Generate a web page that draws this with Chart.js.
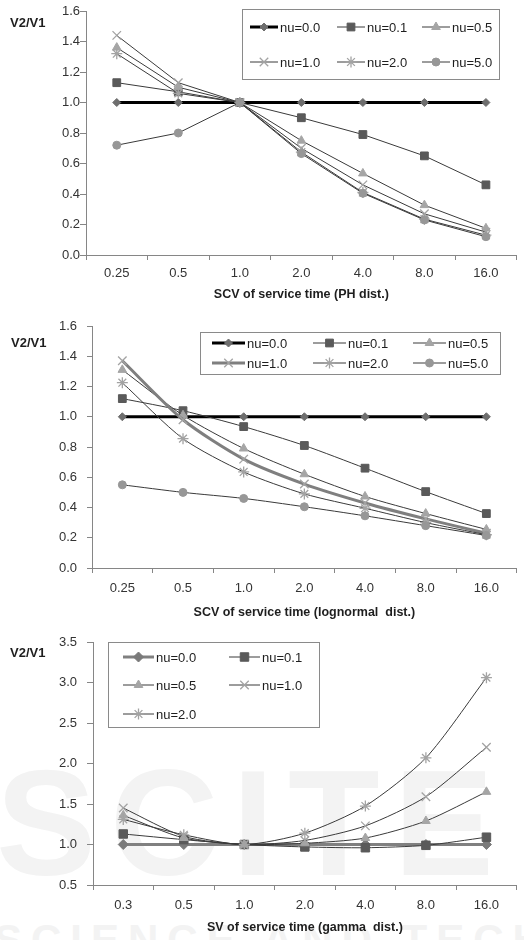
<!DOCTYPE html>
<html>
<head>
<meta charset="utf-8">
<script src="https://cdn.jsdelivr.net/npm/chart.js@4.4.1/dist/chart.umd.min.js"></script>
<style>
  html, body { margin: 0; padding: 0; background: #fff; }
  #wrap { position: relative; width: 524px; height: 940px; overflow: hidden; }
  canvas { position: absolute; left: 0; }
  .wm { position: absolute; left: 0; width: 524px; white-space: nowrap; font-family: "Liberation Sans", Arial, sans-serif;
        font-weight: bold; color: #f3f3f3; line-height: 1; }
</style>
</head>
<body>
<div id="wrap">
  <div class="wm" style="top:748px;font-size:150px;letter-spacing:14px;left:-4px">SCITE</div>
  <div class="wm" style="top:919px;font-size:42px;letter-spacing:9px;left:-6px">SCIENCE AND TECH</div>
  <canvas id="c1" width="524" height="306" style="top:0"></canvas>
  <canvas id="c2" width="524" height="318" style="top:306px"></canvas>
  <canvas id="c3" width="524" height="316" style="top:624px"></canvas>
</div>
<script>
// categories (x tick labels)
const catsPH = ['0.25', '0.5', '1.0', '2.0', '4.0', '8.0', '16.0'];
const catsLogn = ['0.25', '0.5', '1.0', '2.0', '4.0', '8.0', '16.0'];
const catsGamma = ['0.3', '0.5', '1.0', '2.0', '4.0', '8.0', '16.0'];
const seriesLabels = ['nu=0.0', 'nu=0.1', 'nu=0.5', 'nu=1.0', 'nu=2.0', 'nu=5.0'];

// y tick values
const yTicksLow = [0, 0.2, 0.4, 0.6, 0.8, 1.0, 1.2, 1.4, 1.6];
const yTicksGamma = [0.5, 1.0, 1.5, 2.0, 2.5, 3.0, 3.5];

// chart 1: PH dist.
const phNu00 = [1.0, 1.0, 1.0, 1.0, 1.0, 1.0, 1.0];
const phNu01 = [1.13, 1.07, 1.0, 0.90, 0.79, 0.65, 0.46];
const phNu05 = [1.36, 1.10, 1.0, 0.75, 0.535, 0.327, 0.175];
const phNu10 = [1.44, 1.13, 1.0, 0.70, 0.46, 0.27, 0.15];
const phNu20 = [1.32, 1.06, 1.0, 0.675, 0.41, 0.235, 0.13];
const phNu50 = [0.72, 0.80, 1.0, 0.665, 0.405, 0.23, 0.12];

// chart 2: lognormal dist.
const lnNu00 = [1.0, 1.0, 1.0, 1.0, 1.0, 1.0, 1.0];
const lnNu01 = [1.12, 1.04, 0.935, 0.81, 0.66, 0.505, 0.36];
const lnNu05 = [1.31, 1.01, 0.79, 0.62, 0.473, 0.36, 0.255];
const lnNu10 = [1.37, 0.98, 0.72, 0.555, 0.43, 0.325, 0.23];
const lnNu20 = [1.225, 0.855, 0.635, 0.49, 0.395, 0.30, 0.22];
const lnNu50 = [0.55, 0.50, 0.46, 0.405, 0.345, 0.28, 0.215];

// chart 3: gamma dist.
const gaNu00 = [1.0, 1.0, 1.0, 1.0, 1.0, 1.0, 1.0];
const gaNu01 = [1.13, 1.06, 1.0, 0.97, 0.96, 0.99, 1.09];
const gaNu05 = [1.36, 1.08, 1.0, 1.015, 1.08, 1.29, 1.65];
const gaNu10 = [1.45, 1.10, 1.0, 1.05, 1.23, 1.59, 2.20];
const gaNu20 = [1.31, 1.12, 1.0, 1.14, 1.475, 2.07, 3.06];

const FONT = '"Liberation Sans", Arial, sans-serif';
const LINE = '#3a3a3a';

// marker look per series (nu=0.0 .. nu=5.0)
const looks = [
  { pointStyle: 'rectRot', color: '#6e6e6e', r: 4, lineColor: '#000', lineWidth: 3 },
  { pointStyle: 'rect', color: '#5a5a5a', r: 5.5, lineColor: LINE, lineWidth: 1 },
  { pointStyle: 'triangle', color: '#a5a5a5', r: 5, lineColor: LINE, lineWidth: 1 },
  { pointStyle: 'crossRot', color: '#a3a3a3', r: 6, lineColor: LINE, lineWidth: 1 },
  { pointStyle: 'star', color: '#a3a3a3', r: 5.5, lineColor: LINE, lineWidth: 1 },
  { pointStyle: 'circle', color: '#979797', r: 4, lineColor: LINE, lineWidth: 1 }
];

function makeSets(list, tension, override) {
  return list.map((data, i) => {
    const lk = Object.assign({}, looks[i], (override && override[i]) || {});
    const open = lk.pointStyle === 'crossRot' || lk.pointStyle === 'star';
    return {
      label: seriesLabels[i],
      data,
      borderColor: lk.lineColor,
      borderWidth: lk.lineWidth,
      pointStyle: lk.pointStyle,
      pointRadius: lk.r,
      pointBackgroundColor: lk.color,
      pointBorderColor: lk.color,
      pointBorderWidth: open ? 1.3 : 1,
      tension,
      fill: false,
      order: list.length - i
    };
  });
}

// legend with line samples, drawn inside the plot like the original
const boxLegend = {
  id: 'boxLegend',
  afterDraw(chart, args, o) {
    const ctx = chart.ctx;
    ctx.save();
    ctx.fillStyle = '#fff';
    ctx.fillRect(o.x, o.y, o.w, o.h);
    ctx.strokeStyle = '#8a8a8a';
    ctx.lineWidth = 1;
    ctx.strokeRect(o.x + 0.5, o.y + 0.5, o.w, o.h);
    ctx.font = '13px ' + FONT;
    ctx.textBaseline = 'middle';
    ctx.textAlign = 'left';
    chart.data.datasets.forEach((ds, i) => {
      const x0 = o.cols[i % o.cols.length];
      const y = o.rows[Math.floor(i / o.cols.length)];
      ctx.strokeStyle = ds.borderColor;
      ctx.lineWidth = ds.borderWidth;
      ctx.beginPath();
      ctx.moveTo(x0, y);
      ctx.lineTo(x0 + o.len, y);
      ctx.stroke();
      ctx.fillStyle = ds.pointBackgroundColor;
      ctx.strokeStyle = ds.pointBorderColor;
      ctx.lineWidth = ds.pointBorderWidth;
      Chart.helpers.drawPoint(ctx, {
        pointStyle: ds.pointStyle, radius: ds.pointRadius, rotation: 0, borderWidth: ds.pointBorderWidth
      }, x0 + o.len / 2, y);
      ctx.fillStyle = '#1e1e1e';
      ctx.fillText(ds.label, x0 + o.len + 2, y + 1);
    });
    ctx.restore();
  }
};

// horizontal "V2/V1" caption at top-left
const yCaption = {
  id: 'yCaption',
  afterDraw(chart, args, o) {
    const ctx = chart.ctx;
    ctx.save();
    ctx.font = 'bold 13px ' + FONT;
    ctx.fillStyle = '#1e1e1e';
    ctx.textBaseline = 'middle';
    ctx.textAlign = 'left';
    ctx.fillText(o.text, o.x, o.y);
    ctx.restore();
  }
};

function build(id, cats, sets, yTicks, lay) {
  const step = yTicks[1] - yTicks[0];
  return new Chart(document.getElementById(id), {
    type: 'line',
    data: { labels: cats, datasets: sets },
    options: {
      responsive: false,
      animation: false,
      devicePixelRatio: 1,
      layout: { padding: { top: lay.top, right: lay.right, left: 0, bottom: 0 } },
      plugins: {
        legend: { display: false },
        tooltip: { enabled: false },
        boxLegend: lay.legend,
        yCaption: { text: 'V2/V1', x: lay.capX, y: lay.capY }
      },
      scales: {
        x: {
          offset: true,
          grid: { offset: true, drawOnChartArea: false, drawTicks: true, tickLength: 5, color: '#868686' },
          border: { display: true, color: '#868686', width: 1 },
          ticks: { color: '#333', padding: lay.xPad, font: { family: FONT, size: 13 }, maxRotation: 0, autoSkip: false },
          title: {
            display: true, text: lay.xTitle, color: '#1e1e1e',
            font: { family: FONT, size: 12.5, weight: 'bold' },
            padding: { top: 0, bottom: lay.titlePad }
          },
          afterFit: s => { s.height = lay.xH; }
        },
        y: {
          min: yTicks[0],
          max: yTicks[yTicks.length - 1],
          grid: { drawOnChartArea: false, drawTicks: true, tickLength: lay.yTick, color: '#868686' },
          border: { display: true, color: '#868686', width: 1 },
          ticks: {
            stepSize: step, color: '#333', padding: lay.yPad,
            font: { family: FONT, size: 13 },
            callback: v => Number(v).toFixed(1)
          },
          afterFit: s => { s.width = lay.yW; }
        }
      }
    },
    plugins: [boxLegend, yCaption]
  });
}

build('c1', catsPH,
  makeSets([phNu00, phNu01, phNu05, phNu10, phNu20, phNu50], 0),
  yTicksLow, {
    top: 11, right: 1, yW: 86, xH: 51, xPad: 5.5, yPad: 0, yTick: 6, titlePad: 3.5,
    xTitle: 'SCV of service time (PH dist.)', capX: 10, capY: 23,
    legend: { x: 242, y: 9, w: 257, h: 70, rows: [27, 62], cols: [250, 337, 422], len: 28 }
  });

build('c2', catsLogn,
  makeSets([lnNu00, lnNu01, lnNu05, lnNu10, lnNu20, lnNu50], 0.25,
    { 3: { lineColor: '#7f7f7f', lineWidth: 3 } }),
  yTicksLow, {
    top: 20, right: 3, yW: 92, xH: 56, xPad: 7.6, yPad: 10, yTick: 5, titlePad: 3.5,
    xTitle: 'SCV of service time (lognormal  dist.)', capX: 11, capY: 37,
    legend: { x: 200, y: 26, w: 300, h: 42, rows: [37, 57], cols: [212, 313, 413], len: 33 }
  });

build('c3', catsGamma,
  makeSets([gaNu00, gaNu01, gaNu05, gaNu10, gaNu20], 0.25,
    { 0: { lineColor: '#808080', lineWidth: 3, color: '#7a7a7a', r: 5 }, 1: { r: 6 } }),
  yTicksGamma, {
    top: 18, right: 3, yW: 93, xH: 55, xPad: 7.2, yPad: 10, yTick: 6, titlePad: 4.5,
    xTitle: 'SV of service time (gamma  dist.)', capX: 10, capY: 29,
    legend: { x: 108, y: 18, w: 211, h: 85, rows: [33, 61, 90], cols: [123, 229], len: 31 }
  });
</script>
</body>
</html>
